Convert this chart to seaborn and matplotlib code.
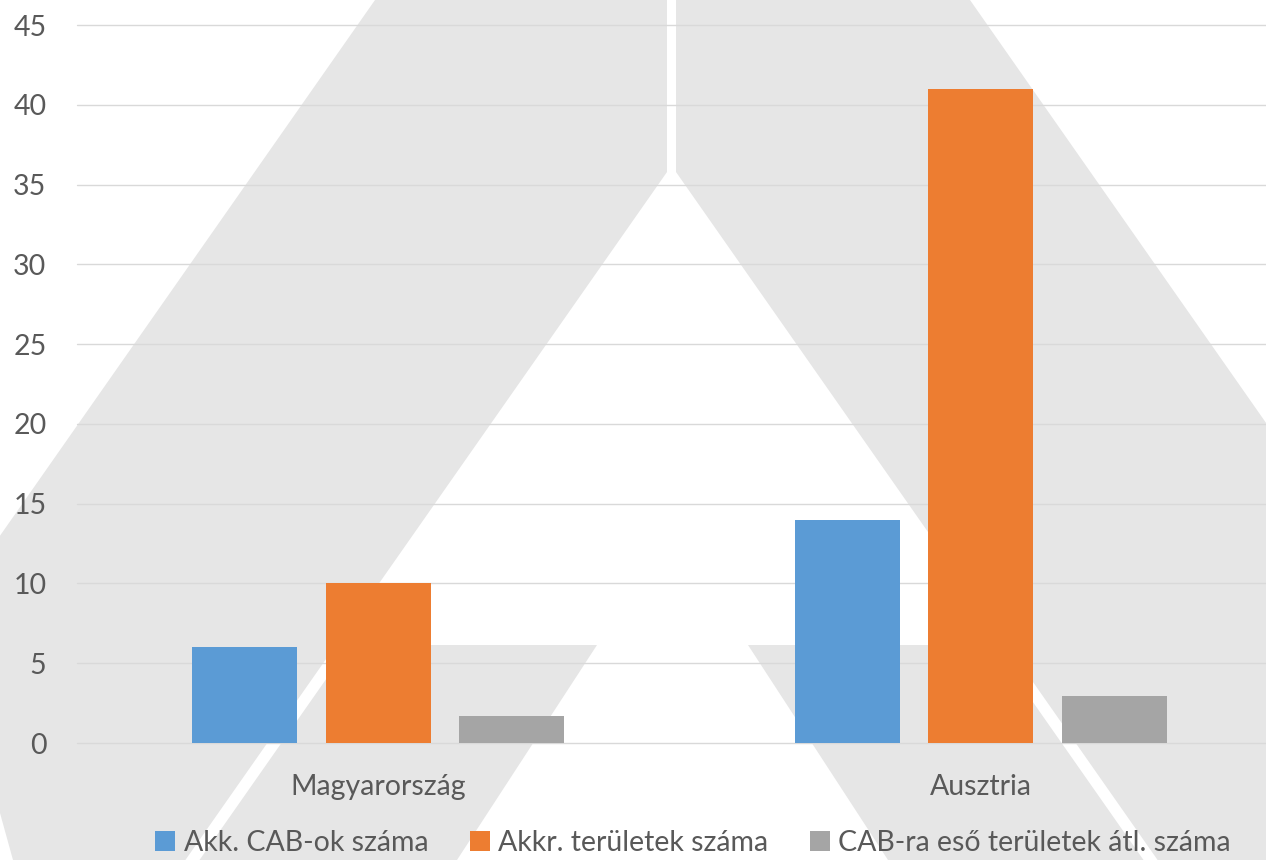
import numpy as np
import pandas as pd
import matplotlib.pyplot as plt
from matplotlib.patches import Polygon
import seaborn as sns

# --- adatok ---
orszagok = ['Magyarország', 'Ausztria']
sorozatok = ['Akk. CAB-ok száma', 'Akkr. területek száma', 'CAB-ra eső területek átl. száma']
cab_szam = [6, 14]
terulet_szam = [10, 41]
atl_szam = [1.67, 2.93]
szinek = ['#5b9bd5', '#ed7d31', '#a5a5a5']
y_tickek = [0, 5, 10, 15, 20, 25, 30, 35, 40, 45]

df = pd.DataFrame({
    'orszag': orszagok * 3,
    'sorozat': [s for s in sorozatok for _ in orszagok],
    'ertek': cab_szam + terulet_szam + atl_szam,
})

sns.set_style('white')
plt.rcParams['font.family'] = ['Lato', 'DejaVu Sans']
szoveg = '#595959'

W, H = 1266, 860
fig = plt.figure(figsize=(W / 100, H / 100), dpi=100)

# --- háttér vízjel (nagy "A" logó), pixel koordinátákban ---
def px(pontok):
    return [(x / W, 1 - y / H) for x, y in pontok]

s = 0.70
vizjel = [
    [(375, 0), (667, 0), (667, 172), (667 - s * 688, 860), (13, 860), (0, 813), (0, 375 / s)],
    [(676, 0), (970, 0), (W, (W - 970) / s), (W, H), (676 + s * 688, 860), (676, 172)],
    [(350, 645), (597, 645), (457, 860), (350 - s * 215, 860)],
    [(748, 645), (993, 645), (993 + s * 215, 860), (888, 860)],
]
for p in vizjel:
    fig.patches.append(Polygon(px(p), closed=True, transform=fig.transFigure,
                               facecolor='#e6e6e6', edgecolor='none', zorder=-5))

# --- diagram ---
ax = fig.add_axes([77 / W, (H - 743) / H, 1205 / W, 718 / H])
ax.set_zorder(2)
ax.set_facecolor('none')
sns.barplot(data=df, x='orszag', y='ertek', hue='sorozat', palette=szinek,
            width=0.665, gap=0.215, ax=ax, saturation=1, zorder=3,
            linewidth=0, edgecolor='none')

ax.set_xlim(-0.5, 1.5)
ax.set_ylim(0, 45)
ax.set_yticks(y_tickek)
ax.yaxis.grid(True, color='#d9d9d9', linewidth=1.0, zorder=1)
ax.set_axisbelow(True)
for gl in ax.get_ygridlines():
    gl.set_clip_on(False)
for sp in ax.spines.values():
    sp.set_visible(False)
ax.set_xlabel('')
ax.set_ylabel('')
ax.tick_params(axis='y', length=0, pad=22, labelsize=20.5, labelcolor=szoveg)
ax.tick_params(axis='x', length=0, pad=22, labelsize=20.5, labelcolor=szoveg)

handles, labels = ax.get_legend_handles_labels()
ax.get_legend().remove()
fig.legend(handles, labels, loc='center', bbox_to_anchor=(693 / W, 17 / H),
           ncol=3, frameon=False, fontsize=20.5, labelcolor=szoveg,
           handlelength=0.7, handleheight=0.7, handletextpad=0.3,
           columnspacing=1.45, borderaxespad=0, borderpad=0)

fig.savefig('out.png', dpi=100, facecolor='white')
